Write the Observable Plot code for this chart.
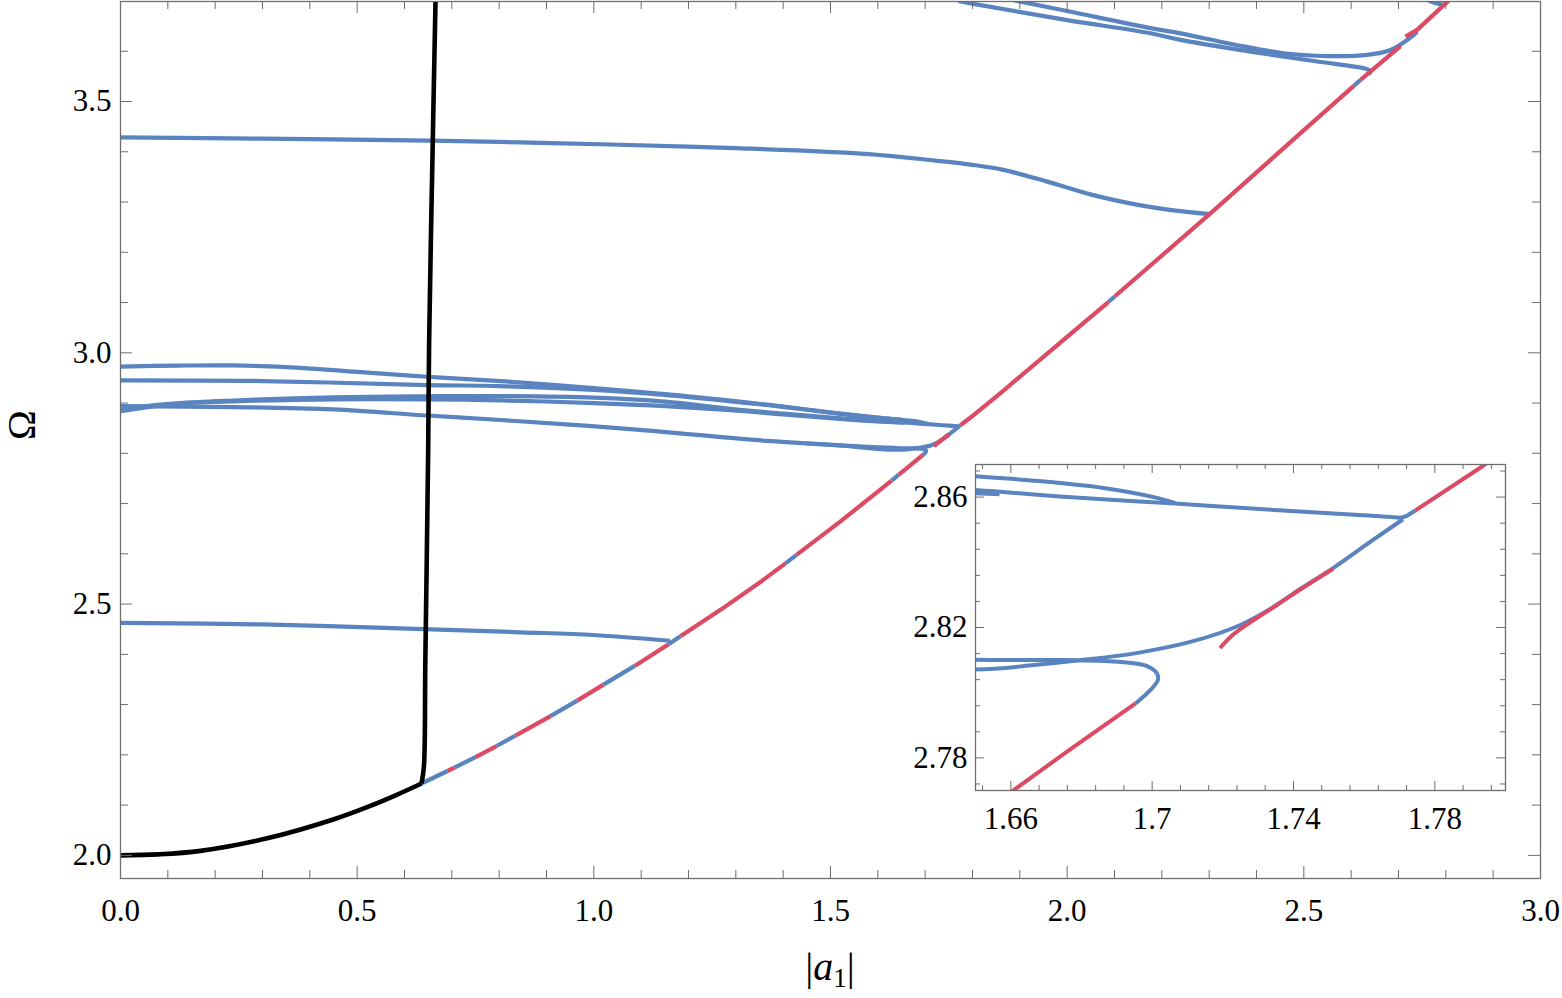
<!DOCTYPE html>
<html>
<head>
<meta charset="utf-8">
<script src="https://cdn.jsdelivr.net/npm/d3@7"></script>
<script src="https://cdn.jsdelivr.net/npm/@observablehq/plot@0.6"></script>
<style>
  body { margin: 0; background: #fff; }
  #wrap { position: relative; width: 1562px; height: 998px; }
  #main { position: absolute; left: 0; top: 0; }
  #inset { position: absolute; left: 900px; top: 460px; }
</style>
</head>
<body>
<div id="wrap"><div id="main"></div><div id="inset"></div></div>
<script>
// ---------- data (|a1|, Omega) ----------
const blackLow = [[0,2.000],[0.08,2.002],[0.169,2.009],[0.31,2.034],[0.451,2.072],[0.521,2.096],[0.58,2.119],[0.636,2.143]];
const blackHigh = [[0.636,2.143],[0.641,2.177],[0.644,2.386],[0.650,2.805],[0.652,3.02],[0.660,3.434],[0.6655,3.699]];

// backbone pieces: [a, Omega, stability of the segment that starts here] S = stable (blue), U = unstable (red)
const backboneLow = [[0.636,2.143,"S"],[0.6908,2.1679,"U"],[0.7056,2.1748,"S"],[0.750,2.1955,"U"],[0.7944,2.2176,"S"],[0.8345,2.2384,"U"],[0.9085,2.277,"S"],[0.9649,2.308,"U"],[1.0204,2.3398,"S"],[1.0872,2.3775,"U"],[1.1578,2.420,"S"],[1.1831,2.436,"U"],[1.2700,2.490,"U"],[1.3542,2.5456,"U"],[1.4049,2.581,"S"],[1.4282,2.598,"U"],[1.5211,2.6645,"U"],[1.6198,2.7385,"U"],[1.629,2.7456,"S"],[1.6437,2.757,"U"],[1.6608,2.7701,"U"],[1.676,2.782,"U"],[1.6953,2.7967,"S"]];
const backboneHigh = [[1.7705,2.8537,"S"],[1.772,2.8542,"S"],[1.7745,2.8559,"U"],[1.7938,2.8697,"U"],[1.8592,2.920,"U"],[2.013,3.042,"U"],[2.087,3.101,"S"],[2.101,3.1125,"U"],[2.301,3.276,"U"],[2.493,3.437,"U"],[2.6056,3.531,"S"],[2.620,3.543,"U"],[2.641,3.560,"U"],[2.7043,3.6104,"U"]];
const unstableTop = [[2.7148,3.6292],[2.740,3.6431],[2.8035,3.6988],[2.81,3.704]];
const unstableInner = [[1.7192,2.8137],[1.7227,2.8176],[1.7268,2.8209],[1.7319,2.8245],[1.742,2.8317],[1.7512,2.838]];

// stable branches
const foldD = [[1.6953,2.7967],[1.6994,2.8007],[1.7016,2.8038],[1.7014,2.8058],[1.6984,2.8082],[1.6913,2.8094],[1.676,2.810],[1.6498,2.8101],[1.578,2.8127],[1.367,2.8246],[1.084,2.8478],[0.803,2.8663],[0.648,2.8752],[0.450,2.8875],[0.239,2.892],[0.0,2.894]];
const branchE = [[1.771,2.8532],[1.7623,2.8467],[1.7512,2.8382],[1.742,2.8319],[1.7339,2.8260],[1.7248,2.8207],[1.7116,2.8158],[1.6963,2.8123],[1.6801,2.810],[1.6659,2.8084],[1.6498,2.8071],[1.60,2.809],[1.52,2.8155],[1.45,2.8195]];
const branchA = [[0,2.9726],[0.12,2.9745],[0.239,2.9748],[0.38,2.970],[0.5,2.962],[0.648,2.9523],[0.803,2.9438],[1.0,2.930],[1.15,2.918],[1.289,2.905],[1.4,2.893],[1.507,2.8807],[1.58,2.873],[1.6498,2.8664],[1.6659,2.8651],[1.6862,2.8628],[1.7004,2.860],[1.7065,2.8582]];
const branchB = [[0,2.9452],[0.3,2.9438],[0.648,2.9358],[0.803,2.9338],[1.0,2.926],[1.15,2.916],[1.289,2.9035],[1.4,2.8925],[1.507,2.880],[1.58,2.8725],[1.6498,2.8664]];
const branchC1 = [[0,2.884],[0.05,2.891],[0.12,2.899],[0.239,2.905],[0.45,2.9115],[0.648,2.9135],[0.803,2.9139],[1.0,2.911],[1.15,2.903],[1.289,2.8885],[1.4,2.879],[1.507,2.8708],[1.58,2.866],[1.6498,2.8622],[1.676,2.860],[1.7065,2.858],[1.737,2.8559],[1.7573,2.8546],[1.7705,2.8537]];
const branchC2 = [[0,2.886],[0.05,2.8935],[0.12,2.8995],[0.239,2.9035],[0.45,2.9075],[0.648,2.9075],[0.803,2.9054],[1.0,2.900],[1.15,2.894],[1.289,2.886],[1.4,2.8775],[1.507,2.8695],[1.58,2.8645],[1.6498,2.8612],[1.6568,2.8609]];
const branchL = [[0,2.4627],[0.3,2.4595],[0.641,2.4502],[0.845,2.4439],[1.0,2.4385],[1.161,2.427]];
const branchH = [[0,3.4286],[0.3,3.426],[0.655,3.422],[0.845,3.4186],[1.014,3.415],[1.297,3.4073],[1.580,3.3954],[1.721,3.3825],[1.80,3.374],[1.863,3.3644],[1.956,3.3411],[2.051,3.3147],[2.147,3.2948],[2.22,3.284],[2.301,3.276]];
const branchT1 = [[1.88,3.703],[1.9014,3.6988],[2.0,3.680],[2.176,3.646],[2.2395,3.6355],[2.35,3.614],[2.4577,3.596],[2.55,3.5905],[2.634,3.5928],[2.683,3.6026],[2.71,3.617],[2.7324,3.6325],[2.7395,3.639]];
const branchT2 = [[1.77,3.700],[1.7958,3.6954],[2.0,3.662],[2.176,3.6358],[2.2395,3.6226],[2.3873,3.5994],[2.5282,3.5796],[2.6268,3.5662],[2.638,3.5625],[2.641,3.5596],[2.6373,3.5543]];
const branchT3 = [[2.76,3.705],[2.7676,3.699],[2.7958,3.6922]];

// axes
const xMajor = [0, 0.5, 1.0, 1.5, 2.0, 2.5, 3.0];
const yMajor = [2.0, 2.5, 3.0, 3.5];
const insetXMajor = [1.66, 1.70, 1.74, 1.78];
const insetYMajor = [2.78, 2.82, 2.86];

// ---------- styling ----------
const BLUE = "#5a84c0", RED = "#dc4a64", AXIS = "#6e6e6e";
const FONT = "'Liberation Serif', 'DejaVu Serif', serif";

function pieces(points) {
  const out = []; let id = 0;
  for (let i = 0; i < points.length - 1; i++) {
    const c = points[i][2];
    if (i === 0 || c !== points[i - 1][2]) id++;
    out.push({a: points[i][0], w: points[i][1], c, id});
    if (i === points.length - 2 || points[i + 1][2] !== c)
      out.push({a: points[i + 1][0], w: points[i + 1][1], c, id});
  }
  return out;
}
const bbRows = [...pieces(backboneLow).map(d => ({...d, id: "L" + d.id})), ...pieces(backboneHigh).map(d => ({...d, id: "H" + d.id}))];

const stableBranches = [foldD, branchE, branchA, branchB, branchC1, branchC2, branchL, branchH, branchT1, branchT2, branchT3];

function curveMarks(sw) {
  const marks = [];
  const o = {x: d => d[0], y: d => d[1], clip: true, strokeWidth: sw, strokeLinecap: "butt", strokeLinejoin: "round"};
  for (const b of stableBranches) marks.push(Plot.line(b, {...o, stroke: BLUE, curve: "catmull-rom"}));
  marks.push(Plot.line(bbRows.filter(d => d.c === "S"), {x: "a", y: "w", z: "id", stroke: BLUE, strokeWidth: sw, clip: true, strokeLinecap: "butt"}));
  marks.push(Plot.line(bbRows.filter(d => d.c === "U"), {x: "a", y: "w", z: "id", stroke: RED, strokeWidth: sw, clip: true, strokeLinecap: "butt"}));
  marks.push(Plot.line(unstableInner, {...o, stroke: RED, curve: "catmull-rom"}));
  marks.push(Plot.line(unstableTop, {...o, stroke: RED}));
  marks.push(Plot.line(blackLow, {...o, stroke: "#000", strokeWidth: sw + 0.4, curve: "catmull-rom"}));
  marks.push(Plot.line(blackHigh, {...o, stroke: "#000", strokeWidth: sw + 0.4, curve: "catmull-rom"}));
  return marks;
}

// ---------- main plot ----------
const W = 1562, H = 998, mL = 120, mR = 22, mT = 1, mB = 120;
const innerW = W - mL - mR, innerH = H - mT - mB;
const xMinor = d3.range(1, 30).filter(i => i % 5 !== 0).map(i => i / 10);
const yMinor = d3.range(20, 37).filter(i => i % 5 !== 0).map(i => i / 10);

const main = Plot.plot({
  width: W, height: H,
  marginLeft: mL, marginRight: mR, marginTop: mT, marginBottom: mB,
  x: {domain: [0, 3]},
  y: {domain: [1.954, 3.699]},
  style: {fontFamily: FONT, color: "#000", background: "transparent", overflow: "visible"},
  marks: [
    ...curveMarks(4.2),
    // inward ticks, all four sides
    Plot.ruleX(xMajor, {x: d => d, insetTop: innerH - 12, stroke: AXIS}),
    Plot.ruleX(xMinor, {x: d => d, insetTop: innerH - 8, stroke: AXIS}),
    Plot.ruleX(xMajor, {x: d => d, insetBottom: innerH - 12, stroke: AXIS}),
    Plot.ruleX(xMinor, {x: d => d, insetBottom: innerH - 8, stroke: AXIS}),
    Plot.ruleY(yMajor, {y: d => d, insetRight: innerW - 12, stroke: AXIS}),
    Plot.ruleY(yMinor, {y: d => d, insetRight: innerW - 8, stroke: AXIS}),
    Plot.ruleY(yMajor, {y: d => d, insetLeft: innerW - 12, stroke: AXIS}),
    Plot.ruleY(yMinor, {y: d => d, insetLeft: innerW - 8, stroke: AXIS}),
    Plot.frame({stroke: AXIS, strokeWidth: 1.3}),
    Plot.axisX(xMajor, {tickSize: 0, tickPadding: 20, tickFormat: d => d.toFixed(1), fontSize: 31, fontFamily: FONT, label: null}),
    Plot.axisY(yMajor, {tickSize: 0, tickPadding: 9, tickFormat: d => d.toFixed(1), fontSize: 31, fontFamily: FONT, label: null}),
    Plot.text(["Ω"], {frameAnchor: "left", dx: -98, rotate: -90, fontSize: 40, fontFamily: FONT, fill: "#000"})
  ]
});
document.getElementById("main").appendChild(main);

// x label |a1|
const xl = d3.select(main).append("text")
  .attr("x", mL + innerW / 2).attr("y", 980)
  .attr("text-anchor", "middle")
  .attr("font-family", FONT).attr("font-size", 40).attr("fill", "#000");
xl.append("tspan").text("|");
xl.append("tspan").attr("font-style", "italic").text("a");
xl.append("tspan").attr("font-size", 27).attr("dy", 7).text("1");
xl.append("tspan").attr("dy", -7).text("|");

// ---------- inset ----------
const iL = 75, iR = 10, iT = 4, iB = 50, iW = 530, iH = 326;
const ixMinor = d3.range(0, 19).filter(i => (i - 1) % 5 !== 0).map(i => 1.652 + 0.008 * i);
const iyMinor = d3.range(0, 13).filter(i => (i - 1) % 5 !== 0).map(i => 2.772 + 0.008 * i);

const inset = Plot.plot({
  width: iL + iW + iR, height: iT + iH + iB,
  marginLeft: iL, marginRight: iR, marginTop: iT, marginBottom: iB,
  x: {domain: [1.65, 1.80]},
  y: {domain: [2.77, 2.87]},
  style: {fontFamily: FONT, color: "#000", background: "transparent", overflow: "visible"},
  marks: [
    Plot.frame({fill: "#fff", stroke: "none"}),
    ...curveMarks(4),
    Plot.ruleX(insetXMajor, {x: d => d, insetTop: iH - 9, stroke: AXIS}),
    Plot.ruleX(ixMinor, {x: d => d, insetTop: iH - 5, stroke: AXIS}),
    Plot.ruleX(insetXMajor, {x: d => d, insetBottom: iH - 9, stroke: AXIS}),
    Plot.ruleX(ixMinor, {x: d => d, insetBottom: iH - 5, stroke: AXIS}),
    Plot.ruleY(insetYMajor, {y: d => d, insetRight: iW - 9, stroke: AXIS}),
    Plot.ruleY(iyMinor, {y: d => d, insetRight: iW - 5, stroke: AXIS}),
    Plot.ruleY(insetYMajor, {y: d => d, insetLeft: iW - 9, stroke: AXIS}),
    Plot.ruleY(iyMinor, {y: d => d, insetLeft: iW - 5, stroke: AXIS}),
    Plot.frame({stroke: AXIS, strokeWidth: 1.3}),
    Plot.axisX(insetXMajor, {tickSize: 0, tickPadding: 16, tickFormat: d => String(+d.toFixed(2)), fontSize: 31, fontFamily: FONT, label: null}),
    Plot.axisY(insetYMajor, {tickSize: 0, tickPadding: 8, tickFormat: d => d.toFixed(2), fontSize: 31, fontFamily: FONT, label: null})
  ]
});
document.getElementById("inset").appendChild(inset);
</script>
</body>
</html>
